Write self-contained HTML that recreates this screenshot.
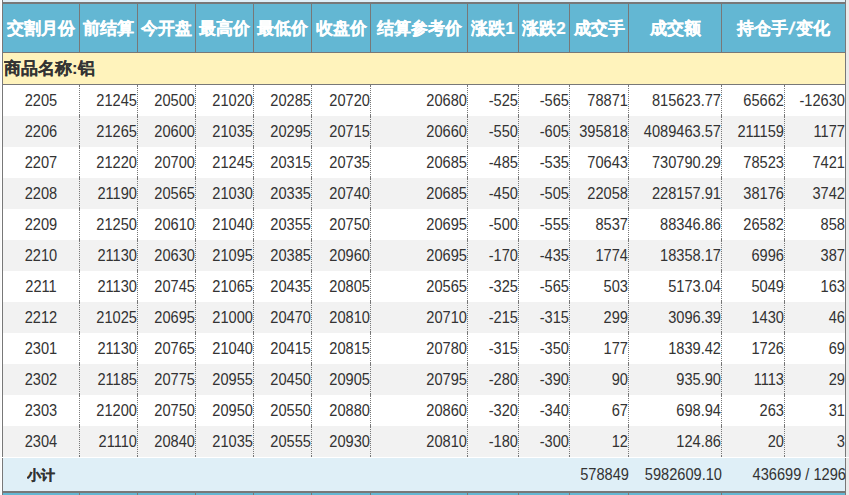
<!DOCTYPE html>
<html><head><meta charset="utf-8"><style>
html,body{margin:0;padding:0;width:849px;height:495px;overflow:hidden;background:#fff;position:relative}
body div{position:absolute;box-sizing:border-box;white-space:nowrap;overflow:hidden}
.hd{font-family:"Liberation Sans",sans-serif;font-weight:bold;font-size:17px;color:#fff;-webkit-text-stroke:0.2px #fff}
.cm{font-family:"Liberation Sans",sans-serif;font-weight:bold;font-size:16.6px;color:#333;-webkit-text-stroke:0.1px #333}
.dt{font-family:"Liberation Sans",sans-serif;font-size:15.8px;transform:scaleX(0.925);color:#333}
.sb{font-family:"Liberation Sans",sans-serif;font-size:15.8px;transform:scaleX(0.925);color:#333}
.b{font-weight:bold;letter-spacing:0;transform:none;font-size:13.6px;-webkit-text-stroke:0.3px #333}
</style></head><body>
<div style="left:0px;top:0px;width:1px;height:495px;background:#fafafa;"></div>
<div style="left:1px;top:0px;width:1px;height:495px;background:#ffffff;"></div>
<div style="left:846px;top:0px;width:3px;height:495px;background:#ebebeb;"></div>
<div style="left:3px;top:0px;width:842px;height:2px;background:#dfeff7;"></div>
<div style="left:2px;top:0px;width:1px;height:2px;background:#787878;"></div>
<div style="left:845px;top:0px;width:1px;height:2px;background:#787878;"></div>
<div style="left:2px;top:2px;width:844px;height:2px;background:#787878;"></div>
<div style="left:3px;top:4px;width:842px;height:48px;background:#63b7d3;"></div>
<div style="left:79px;top:4px;width:1px;height:48px;background:#787878;"></div>
<div style="left:137px;top:4px;width:1px;height:48px;background:#787878;"></div>
<div style="left:195px;top:4px;width:1px;height:48px;background:#787878;"></div>
<div style="left:253px;top:4px;width:1px;height:48px;background:#787878;"></div>
<div style="left:311px;top:4px;width:1px;height:48px;background:#787878;"></div>
<div style="left:370px;top:4px;width:1px;height:48px;background:#787878;"></div>
<div style="left:467px;top:4px;width:1px;height:48px;background:#787878;"></div>
<div style="left:518px;top:4px;width:1px;height:48px;background:#787878;"></div>
<div style="left:569px;top:4px;width:1px;height:48px;background:#787878;"></div>
<div style="left:628px;top:4px;width:1px;height:48px;background:#787878;"></div>
<div style="left:721px;top:4px;width:1px;height:48px;background:#787878;"></div>
<div class="hd" style="left:3px;top:5px;width:76px;height:47px;line-height:47px;text-align:center;transform-origin:center center">交割月份</div>
<div class="hd" style="left:80px;top:5px;width:57px;height:47px;line-height:47px;text-align:center;transform-origin:center center">前结算</div>
<div class="hd" style="left:138px;top:5px;width:57px;height:47px;line-height:47px;text-align:center;transform-origin:center center">今开盘</div>
<div class="hd" style="left:196px;top:5px;width:57px;height:47px;line-height:47px;text-align:center;transform-origin:center center">最高价</div>
<div class="hd" style="left:254px;top:5px;width:57px;height:47px;line-height:47px;text-align:center;transform-origin:center center">最低价</div>
<div class="hd" style="left:312px;top:5px;width:58px;height:47px;line-height:47px;text-align:center;transform-origin:center center">收盘价</div>
<div class="hd" style="left:371px;top:5px;width:96px;height:47px;line-height:47px;text-align:center;transform-origin:center center">结算参考价</div>
<div class="hd" style="left:468px;top:5px;width:50px;height:47px;line-height:47px;text-align:center;transform-origin:center center">涨跌1</div>
<div class="hd" style="left:519px;top:5px;width:50px;height:47px;line-height:47px;text-align:center;transform-origin:center center">涨跌2</div>
<div class="hd" style="left:570px;top:5px;width:58px;height:47px;line-height:47px;text-align:center;transform-origin:center center">成交手</div>
<div class="hd" style="left:629px;top:5px;width:92px;height:47px;line-height:47px;text-align:center;transform-origin:center center">成交额</div>
<div class="hd" style="left:722px;top:5px;width:123px;height:47px;line-height:47px;text-align:center;transform-origin:center center">持仓手<span style="display:inline-block;padding:0 1.5px;transform:skewX(-12deg)">/</span>变化</div>
<div style="left:2px;top:4px;width:1px;height:48px;background:#787878;"></div>
<div style="left:845px;top:4px;width:1px;height:48px;background:#787878;"></div>
<div style="left:2px;top:52px;width:844px;height:1px;background:#787878;"></div>
<div style="left:3px;top:53px;width:842px;height:31px;background:#fff3bc;"></div>
<div style="left:2px;top:53px;width:1px;height:31px;background:#787878;"></div>
<div style="left:845px;top:53px;width:1px;height:31px;background:#787878;"></div>
<div class="cm" style="left:4px;top:53px;width:400px;height:31px;line-height:31px;text-align:left;transform-origin:left center">商品名称:铝</div>
<div style="left:2px;top:84px;width:844px;height:1px;background:#787878;"></div>
<div style="left:3px;top:85px;width:842px;height:31px;background:#ffffff;"></div>
<div style="left:2px;top:85px;width:1px;height:31px;background:#787878;"></div>
<div style="left:845px;top:85px;width:1px;height:31px;background:#787878;"></div>
<div class="dt" style="left:3px;top:85px;width:76px;height:31px;line-height:31px;text-align:center;transform-origin:center center">2205</div>
<div class="dt" style="left:80px;top:85px;width:57px;height:31px;line-height:31px;text-align:right;transform-origin:right center">21245</div>
<div class="dt" style="left:138px;top:85px;width:57px;height:31px;line-height:31px;text-align:right;transform-origin:right center">20500</div>
<div class="dt" style="left:196px;top:85px;width:57px;height:31px;line-height:31px;text-align:right;transform-origin:right center">21020</div>
<div class="dt" style="left:254px;top:85px;width:57px;height:31px;line-height:31px;text-align:right;transform-origin:right center">20285</div>
<div class="dt" style="left:312px;top:85px;width:58px;height:31px;line-height:31px;text-align:right;transform-origin:right center">20720</div>
<div class="dt" style="left:371px;top:85px;width:96px;height:31px;line-height:31px;text-align:right;transform-origin:right center">20680</div>
<div class="dt" style="left:468px;top:85px;width:50px;height:31px;line-height:31px;text-align:right;transform-origin:right center">-525</div>
<div class="dt" style="left:519px;top:85px;width:50px;height:31px;line-height:31px;text-align:right;transform-origin:right center">-565</div>
<div class="dt" style="left:570px;top:85px;width:58px;height:31px;line-height:31px;text-align:right;transform-origin:right center">78871</div>
<div class="dt" style="left:629px;top:85px;width:92px;height:31px;line-height:31px;text-align:right;transform-origin:right center">815623.77</div>
<div class="dt" style="left:722px;top:85px;width:62px;height:31px;line-height:31px;text-align:right;transform-origin:right center">65662</div>
<div class="dt" style="left:785px;top:85px;width:60px;height:31px;line-height:31px;text-align:right;transform-origin:right center">-12630</div>
<div style="left:3px;top:116px;width:842px;height:31px;background:#f2f2f2;"></div>
<div style="left:2px;top:116px;width:1px;height:31px;background:#787878;"></div>
<div style="left:845px;top:116px;width:1px;height:31px;background:#787878;"></div>
<div class="dt" style="left:3px;top:116px;width:76px;height:31px;line-height:31px;text-align:center;transform-origin:center center">2206</div>
<div class="dt" style="left:80px;top:116px;width:57px;height:31px;line-height:31px;text-align:right;transform-origin:right center">21265</div>
<div class="dt" style="left:138px;top:116px;width:57px;height:31px;line-height:31px;text-align:right;transform-origin:right center">20600</div>
<div class="dt" style="left:196px;top:116px;width:57px;height:31px;line-height:31px;text-align:right;transform-origin:right center">21035</div>
<div class="dt" style="left:254px;top:116px;width:57px;height:31px;line-height:31px;text-align:right;transform-origin:right center">20295</div>
<div class="dt" style="left:312px;top:116px;width:58px;height:31px;line-height:31px;text-align:right;transform-origin:right center">20715</div>
<div class="dt" style="left:371px;top:116px;width:96px;height:31px;line-height:31px;text-align:right;transform-origin:right center">20660</div>
<div class="dt" style="left:468px;top:116px;width:50px;height:31px;line-height:31px;text-align:right;transform-origin:right center">-550</div>
<div class="dt" style="left:519px;top:116px;width:50px;height:31px;line-height:31px;text-align:right;transform-origin:right center">-605</div>
<div class="dt" style="left:570px;top:116px;width:58px;height:31px;line-height:31px;text-align:right;transform-origin:right center">395818</div>
<div class="dt" style="left:629px;top:116px;width:92px;height:31px;line-height:31px;text-align:right;transform-origin:right center">4089463.57</div>
<div class="dt" style="left:722px;top:116px;width:62px;height:31px;line-height:31px;text-align:right;transform-origin:right center">211159</div>
<div class="dt" style="left:785px;top:116px;width:60px;height:31px;line-height:31px;text-align:right;transform-origin:right center">1177</div>
<div style="left:3px;top:147px;width:842px;height:31px;background:#ffffff;"></div>
<div style="left:2px;top:147px;width:1px;height:31px;background:#787878;"></div>
<div style="left:845px;top:147px;width:1px;height:31px;background:#787878;"></div>
<div class="dt" style="left:3px;top:147px;width:76px;height:31px;line-height:31px;text-align:center;transform-origin:center center">2207</div>
<div class="dt" style="left:80px;top:147px;width:57px;height:31px;line-height:31px;text-align:right;transform-origin:right center">21220</div>
<div class="dt" style="left:138px;top:147px;width:57px;height:31px;line-height:31px;text-align:right;transform-origin:right center">20700</div>
<div class="dt" style="left:196px;top:147px;width:57px;height:31px;line-height:31px;text-align:right;transform-origin:right center">21245</div>
<div class="dt" style="left:254px;top:147px;width:57px;height:31px;line-height:31px;text-align:right;transform-origin:right center">20315</div>
<div class="dt" style="left:312px;top:147px;width:58px;height:31px;line-height:31px;text-align:right;transform-origin:right center">20735</div>
<div class="dt" style="left:371px;top:147px;width:96px;height:31px;line-height:31px;text-align:right;transform-origin:right center">20685</div>
<div class="dt" style="left:468px;top:147px;width:50px;height:31px;line-height:31px;text-align:right;transform-origin:right center">-485</div>
<div class="dt" style="left:519px;top:147px;width:50px;height:31px;line-height:31px;text-align:right;transform-origin:right center">-535</div>
<div class="dt" style="left:570px;top:147px;width:58px;height:31px;line-height:31px;text-align:right;transform-origin:right center">70643</div>
<div class="dt" style="left:629px;top:147px;width:92px;height:31px;line-height:31px;text-align:right;transform-origin:right center">730790.29</div>
<div class="dt" style="left:722px;top:147px;width:62px;height:31px;line-height:31px;text-align:right;transform-origin:right center">78523</div>
<div class="dt" style="left:785px;top:147px;width:60px;height:31px;line-height:31px;text-align:right;transform-origin:right center">7421</div>
<div style="left:3px;top:178px;width:842px;height:31px;background:#f2f2f2;"></div>
<div style="left:2px;top:178px;width:1px;height:31px;background:#787878;"></div>
<div style="left:845px;top:178px;width:1px;height:31px;background:#787878;"></div>
<div class="dt" style="left:3px;top:178px;width:76px;height:31px;line-height:31px;text-align:center;transform-origin:center center">2208</div>
<div class="dt" style="left:80px;top:178px;width:57px;height:31px;line-height:31px;text-align:right;transform-origin:right center">21190</div>
<div class="dt" style="left:138px;top:178px;width:57px;height:31px;line-height:31px;text-align:right;transform-origin:right center">20565</div>
<div class="dt" style="left:196px;top:178px;width:57px;height:31px;line-height:31px;text-align:right;transform-origin:right center">21030</div>
<div class="dt" style="left:254px;top:178px;width:57px;height:31px;line-height:31px;text-align:right;transform-origin:right center">20335</div>
<div class="dt" style="left:312px;top:178px;width:58px;height:31px;line-height:31px;text-align:right;transform-origin:right center">20740</div>
<div class="dt" style="left:371px;top:178px;width:96px;height:31px;line-height:31px;text-align:right;transform-origin:right center">20685</div>
<div class="dt" style="left:468px;top:178px;width:50px;height:31px;line-height:31px;text-align:right;transform-origin:right center">-450</div>
<div class="dt" style="left:519px;top:178px;width:50px;height:31px;line-height:31px;text-align:right;transform-origin:right center">-505</div>
<div class="dt" style="left:570px;top:178px;width:58px;height:31px;line-height:31px;text-align:right;transform-origin:right center">22058</div>
<div class="dt" style="left:629px;top:178px;width:92px;height:31px;line-height:31px;text-align:right;transform-origin:right center">228157.91</div>
<div class="dt" style="left:722px;top:178px;width:62px;height:31px;line-height:31px;text-align:right;transform-origin:right center">38176</div>
<div class="dt" style="left:785px;top:178px;width:60px;height:31px;line-height:31px;text-align:right;transform-origin:right center">3742</div>
<div style="left:3px;top:209px;width:842px;height:31px;background:#ffffff;"></div>
<div style="left:2px;top:209px;width:1px;height:31px;background:#787878;"></div>
<div style="left:845px;top:209px;width:1px;height:31px;background:#787878;"></div>
<div class="dt" style="left:3px;top:209px;width:76px;height:31px;line-height:31px;text-align:center;transform-origin:center center">2209</div>
<div class="dt" style="left:80px;top:209px;width:57px;height:31px;line-height:31px;text-align:right;transform-origin:right center">21250</div>
<div class="dt" style="left:138px;top:209px;width:57px;height:31px;line-height:31px;text-align:right;transform-origin:right center">20610</div>
<div class="dt" style="left:196px;top:209px;width:57px;height:31px;line-height:31px;text-align:right;transform-origin:right center">21040</div>
<div class="dt" style="left:254px;top:209px;width:57px;height:31px;line-height:31px;text-align:right;transform-origin:right center">20355</div>
<div class="dt" style="left:312px;top:209px;width:58px;height:31px;line-height:31px;text-align:right;transform-origin:right center">20750</div>
<div class="dt" style="left:371px;top:209px;width:96px;height:31px;line-height:31px;text-align:right;transform-origin:right center">20695</div>
<div class="dt" style="left:468px;top:209px;width:50px;height:31px;line-height:31px;text-align:right;transform-origin:right center">-500</div>
<div class="dt" style="left:519px;top:209px;width:50px;height:31px;line-height:31px;text-align:right;transform-origin:right center">-555</div>
<div class="dt" style="left:570px;top:209px;width:58px;height:31px;line-height:31px;text-align:right;transform-origin:right center">8537</div>
<div class="dt" style="left:629px;top:209px;width:92px;height:31px;line-height:31px;text-align:right;transform-origin:right center">88346.86</div>
<div class="dt" style="left:722px;top:209px;width:62px;height:31px;line-height:31px;text-align:right;transform-origin:right center">26582</div>
<div class="dt" style="left:785px;top:209px;width:60px;height:31px;line-height:31px;text-align:right;transform-origin:right center">858</div>
<div style="left:3px;top:240px;width:842px;height:31px;background:#f2f2f2;"></div>
<div style="left:2px;top:240px;width:1px;height:31px;background:#787878;"></div>
<div style="left:845px;top:240px;width:1px;height:31px;background:#787878;"></div>
<div class="dt" style="left:3px;top:240px;width:76px;height:31px;line-height:31px;text-align:center;transform-origin:center center">2210</div>
<div class="dt" style="left:80px;top:240px;width:57px;height:31px;line-height:31px;text-align:right;transform-origin:right center">21130</div>
<div class="dt" style="left:138px;top:240px;width:57px;height:31px;line-height:31px;text-align:right;transform-origin:right center">20630</div>
<div class="dt" style="left:196px;top:240px;width:57px;height:31px;line-height:31px;text-align:right;transform-origin:right center">21095</div>
<div class="dt" style="left:254px;top:240px;width:57px;height:31px;line-height:31px;text-align:right;transform-origin:right center">20385</div>
<div class="dt" style="left:312px;top:240px;width:58px;height:31px;line-height:31px;text-align:right;transform-origin:right center">20960</div>
<div class="dt" style="left:371px;top:240px;width:96px;height:31px;line-height:31px;text-align:right;transform-origin:right center">20695</div>
<div class="dt" style="left:468px;top:240px;width:50px;height:31px;line-height:31px;text-align:right;transform-origin:right center">-170</div>
<div class="dt" style="left:519px;top:240px;width:50px;height:31px;line-height:31px;text-align:right;transform-origin:right center">-435</div>
<div class="dt" style="left:570px;top:240px;width:58px;height:31px;line-height:31px;text-align:right;transform-origin:right center">1774</div>
<div class="dt" style="left:629px;top:240px;width:92px;height:31px;line-height:31px;text-align:right;transform-origin:right center">18358.17</div>
<div class="dt" style="left:722px;top:240px;width:62px;height:31px;line-height:31px;text-align:right;transform-origin:right center">6996</div>
<div class="dt" style="left:785px;top:240px;width:60px;height:31px;line-height:31px;text-align:right;transform-origin:right center">387</div>
<div style="left:3px;top:271px;width:842px;height:31px;background:#ffffff;"></div>
<div style="left:2px;top:271px;width:1px;height:31px;background:#787878;"></div>
<div style="left:845px;top:271px;width:1px;height:31px;background:#787878;"></div>
<div class="dt" style="left:3px;top:271px;width:76px;height:31px;line-height:31px;text-align:center;transform-origin:center center">2211</div>
<div class="dt" style="left:80px;top:271px;width:57px;height:31px;line-height:31px;text-align:right;transform-origin:right center">21130</div>
<div class="dt" style="left:138px;top:271px;width:57px;height:31px;line-height:31px;text-align:right;transform-origin:right center">20745</div>
<div class="dt" style="left:196px;top:271px;width:57px;height:31px;line-height:31px;text-align:right;transform-origin:right center">21065</div>
<div class="dt" style="left:254px;top:271px;width:57px;height:31px;line-height:31px;text-align:right;transform-origin:right center">20435</div>
<div class="dt" style="left:312px;top:271px;width:58px;height:31px;line-height:31px;text-align:right;transform-origin:right center">20805</div>
<div class="dt" style="left:371px;top:271px;width:96px;height:31px;line-height:31px;text-align:right;transform-origin:right center">20565</div>
<div class="dt" style="left:468px;top:271px;width:50px;height:31px;line-height:31px;text-align:right;transform-origin:right center">-325</div>
<div class="dt" style="left:519px;top:271px;width:50px;height:31px;line-height:31px;text-align:right;transform-origin:right center">-565</div>
<div class="dt" style="left:570px;top:271px;width:58px;height:31px;line-height:31px;text-align:right;transform-origin:right center">503</div>
<div class="dt" style="left:629px;top:271px;width:92px;height:31px;line-height:31px;text-align:right;transform-origin:right center">5173.04</div>
<div class="dt" style="left:722px;top:271px;width:62px;height:31px;line-height:31px;text-align:right;transform-origin:right center">5049</div>
<div class="dt" style="left:785px;top:271px;width:60px;height:31px;line-height:31px;text-align:right;transform-origin:right center">163</div>
<div style="left:3px;top:302px;width:842px;height:31px;background:#f2f2f2;"></div>
<div style="left:2px;top:302px;width:1px;height:31px;background:#787878;"></div>
<div style="left:845px;top:302px;width:1px;height:31px;background:#787878;"></div>
<div class="dt" style="left:3px;top:302px;width:76px;height:31px;line-height:31px;text-align:center;transform-origin:center center">2212</div>
<div class="dt" style="left:80px;top:302px;width:57px;height:31px;line-height:31px;text-align:right;transform-origin:right center">21025</div>
<div class="dt" style="left:138px;top:302px;width:57px;height:31px;line-height:31px;text-align:right;transform-origin:right center">20695</div>
<div class="dt" style="left:196px;top:302px;width:57px;height:31px;line-height:31px;text-align:right;transform-origin:right center">21000</div>
<div class="dt" style="left:254px;top:302px;width:57px;height:31px;line-height:31px;text-align:right;transform-origin:right center">20470</div>
<div class="dt" style="left:312px;top:302px;width:58px;height:31px;line-height:31px;text-align:right;transform-origin:right center">20810</div>
<div class="dt" style="left:371px;top:302px;width:96px;height:31px;line-height:31px;text-align:right;transform-origin:right center">20710</div>
<div class="dt" style="left:468px;top:302px;width:50px;height:31px;line-height:31px;text-align:right;transform-origin:right center">-215</div>
<div class="dt" style="left:519px;top:302px;width:50px;height:31px;line-height:31px;text-align:right;transform-origin:right center">-315</div>
<div class="dt" style="left:570px;top:302px;width:58px;height:31px;line-height:31px;text-align:right;transform-origin:right center">299</div>
<div class="dt" style="left:629px;top:302px;width:92px;height:31px;line-height:31px;text-align:right;transform-origin:right center">3096.39</div>
<div class="dt" style="left:722px;top:302px;width:62px;height:31px;line-height:31px;text-align:right;transform-origin:right center">1430</div>
<div class="dt" style="left:785px;top:302px;width:60px;height:31px;line-height:31px;text-align:right;transform-origin:right center">46</div>
<div style="left:3px;top:333px;width:842px;height:31px;background:#ffffff;"></div>
<div style="left:2px;top:333px;width:1px;height:31px;background:#787878;"></div>
<div style="left:845px;top:333px;width:1px;height:31px;background:#787878;"></div>
<div class="dt" style="left:3px;top:333px;width:76px;height:31px;line-height:31px;text-align:center;transform-origin:center center">2301</div>
<div class="dt" style="left:80px;top:333px;width:57px;height:31px;line-height:31px;text-align:right;transform-origin:right center">21130</div>
<div class="dt" style="left:138px;top:333px;width:57px;height:31px;line-height:31px;text-align:right;transform-origin:right center">20765</div>
<div class="dt" style="left:196px;top:333px;width:57px;height:31px;line-height:31px;text-align:right;transform-origin:right center">21040</div>
<div class="dt" style="left:254px;top:333px;width:57px;height:31px;line-height:31px;text-align:right;transform-origin:right center">20415</div>
<div class="dt" style="left:312px;top:333px;width:58px;height:31px;line-height:31px;text-align:right;transform-origin:right center">20815</div>
<div class="dt" style="left:371px;top:333px;width:96px;height:31px;line-height:31px;text-align:right;transform-origin:right center">20780</div>
<div class="dt" style="left:468px;top:333px;width:50px;height:31px;line-height:31px;text-align:right;transform-origin:right center">-315</div>
<div class="dt" style="left:519px;top:333px;width:50px;height:31px;line-height:31px;text-align:right;transform-origin:right center">-350</div>
<div class="dt" style="left:570px;top:333px;width:58px;height:31px;line-height:31px;text-align:right;transform-origin:right center">177</div>
<div class="dt" style="left:629px;top:333px;width:92px;height:31px;line-height:31px;text-align:right;transform-origin:right center">1839.42</div>
<div class="dt" style="left:722px;top:333px;width:62px;height:31px;line-height:31px;text-align:right;transform-origin:right center">1726</div>
<div class="dt" style="left:785px;top:333px;width:60px;height:31px;line-height:31px;text-align:right;transform-origin:right center">69</div>
<div style="left:3px;top:364px;width:842px;height:31px;background:#f2f2f2;"></div>
<div style="left:2px;top:364px;width:1px;height:31px;background:#787878;"></div>
<div style="left:845px;top:364px;width:1px;height:31px;background:#787878;"></div>
<div class="dt" style="left:3px;top:364px;width:76px;height:31px;line-height:31px;text-align:center;transform-origin:center center">2302</div>
<div class="dt" style="left:80px;top:364px;width:57px;height:31px;line-height:31px;text-align:right;transform-origin:right center">21185</div>
<div class="dt" style="left:138px;top:364px;width:57px;height:31px;line-height:31px;text-align:right;transform-origin:right center">20775</div>
<div class="dt" style="left:196px;top:364px;width:57px;height:31px;line-height:31px;text-align:right;transform-origin:right center">20955</div>
<div class="dt" style="left:254px;top:364px;width:57px;height:31px;line-height:31px;text-align:right;transform-origin:right center">20450</div>
<div class="dt" style="left:312px;top:364px;width:58px;height:31px;line-height:31px;text-align:right;transform-origin:right center">20905</div>
<div class="dt" style="left:371px;top:364px;width:96px;height:31px;line-height:31px;text-align:right;transform-origin:right center">20795</div>
<div class="dt" style="left:468px;top:364px;width:50px;height:31px;line-height:31px;text-align:right;transform-origin:right center">-280</div>
<div class="dt" style="left:519px;top:364px;width:50px;height:31px;line-height:31px;text-align:right;transform-origin:right center">-390</div>
<div class="dt" style="left:570px;top:364px;width:58px;height:31px;line-height:31px;text-align:right;transform-origin:right center">90</div>
<div class="dt" style="left:629px;top:364px;width:92px;height:31px;line-height:31px;text-align:right;transform-origin:right center">935.90</div>
<div class="dt" style="left:722px;top:364px;width:62px;height:31px;line-height:31px;text-align:right;transform-origin:right center">1113</div>
<div class="dt" style="left:785px;top:364px;width:60px;height:31px;line-height:31px;text-align:right;transform-origin:right center">29</div>
<div style="left:3px;top:395px;width:842px;height:31px;background:#ffffff;"></div>
<div style="left:2px;top:395px;width:1px;height:31px;background:#787878;"></div>
<div style="left:845px;top:395px;width:1px;height:31px;background:#787878;"></div>
<div class="dt" style="left:3px;top:395px;width:76px;height:31px;line-height:31px;text-align:center;transform-origin:center center">2303</div>
<div class="dt" style="left:80px;top:395px;width:57px;height:31px;line-height:31px;text-align:right;transform-origin:right center">21200</div>
<div class="dt" style="left:138px;top:395px;width:57px;height:31px;line-height:31px;text-align:right;transform-origin:right center">20750</div>
<div class="dt" style="left:196px;top:395px;width:57px;height:31px;line-height:31px;text-align:right;transform-origin:right center">20950</div>
<div class="dt" style="left:254px;top:395px;width:57px;height:31px;line-height:31px;text-align:right;transform-origin:right center">20550</div>
<div class="dt" style="left:312px;top:395px;width:58px;height:31px;line-height:31px;text-align:right;transform-origin:right center">20880</div>
<div class="dt" style="left:371px;top:395px;width:96px;height:31px;line-height:31px;text-align:right;transform-origin:right center">20860</div>
<div class="dt" style="left:468px;top:395px;width:50px;height:31px;line-height:31px;text-align:right;transform-origin:right center">-320</div>
<div class="dt" style="left:519px;top:395px;width:50px;height:31px;line-height:31px;text-align:right;transform-origin:right center">-340</div>
<div class="dt" style="left:570px;top:395px;width:58px;height:31px;line-height:31px;text-align:right;transform-origin:right center">67</div>
<div class="dt" style="left:629px;top:395px;width:92px;height:31px;line-height:31px;text-align:right;transform-origin:right center">698.94</div>
<div class="dt" style="left:722px;top:395px;width:62px;height:31px;line-height:31px;text-align:right;transform-origin:right center">263</div>
<div class="dt" style="left:785px;top:395px;width:60px;height:31px;line-height:31px;text-align:right;transform-origin:right center">31</div>
<div style="left:3px;top:426px;width:842px;height:31px;background:#f2f2f2;"></div>
<div style="left:2px;top:426px;width:1px;height:31px;background:#787878;"></div>
<div style="left:845px;top:426px;width:1px;height:31px;background:#787878;"></div>
<div class="dt" style="left:3px;top:426px;width:76px;height:31px;line-height:31px;text-align:center;transform-origin:center center">2304</div>
<div class="dt" style="left:80px;top:426px;width:57px;height:31px;line-height:31px;text-align:right;transform-origin:right center">21110</div>
<div class="dt" style="left:138px;top:426px;width:57px;height:31px;line-height:31px;text-align:right;transform-origin:right center">20840</div>
<div class="dt" style="left:196px;top:426px;width:57px;height:31px;line-height:31px;text-align:right;transform-origin:right center">21035</div>
<div class="dt" style="left:254px;top:426px;width:57px;height:31px;line-height:31px;text-align:right;transform-origin:right center">20555</div>
<div class="dt" style="left:312px;top:426px;width:58px;height:31px;line-height:31px;text-align:right;transform-origin:right center">20930</div>
<div class="dt" style="left:371px;top:426px;width:96px;height:31px;line-height:31px;text-align:right;transform-origin:right center">20810</div>
<div class="dt" style="left:468px;top:426px;width:50px;height:31px;line-height:31px;text-align:right;transform-origin:right center">-180</div>
<div class="dt" style="left:519px;top:426px;width:50px;height:31px;line-height:31px;text-align:right;transform-origin:right center">-300</div>
<div class="dt" style="left:570px;top:426px;width:58px;height:31px;line-height:31px;text-align:right;transform-origin:right center">12</div>
<div class="dt" style="left:629px;top:426px;width:92px;height:31px;line-height:31px;text-align:right;transform-origin:right center">124.86</div>
<div class="dt" style="left:722px;top:426px;width:62px;height:31px;line-height:31px;text-align:right;transform-origin:right center">20</div>
<div class="dt" style="left:785px;top:426px;width:60px;height:31px;line-height:31px;text-align:right;transform-origin:right center">3</div>
<div style="left:79px;top:85px;width:1px;height:372px;background-image:linear-gradient(to bottom,#787878 0px 1px,#787878 1px 2px,transparent 2px 3px,#787878 3px 4px,transparent 4px 5px,#787878 5px 6px,transparent 6px 7px,#787878 7px 8px,transparent 8px 9px,#787878 9px 10px,transparent 10px 11px,#787878 11px 12px,transparent 12px 13px,#787878 13px 14px,transparent 14px 15px,#787878 15px 16px,transparent 16px 17px,#787878 17px 18px,transparent 18px 19px,#787878 19px 20px,transparent 20px 21px,#787878 21px 22px,transparent 22px 23px,#787878 23px 24px,transparent 24px 25px,#787878 25px 26px,transparent 26px 27px,#787878 27px 28px,transparent 28px 29px,#787878 29px 30px,#787878 30px 31px);background-size:1px 31px;background-repeat:repeat-y"></div>
<div style="left:137px;top:85px;width:1px;height:372px;background-image:linear-gradient(to bottom,#787878 0px 1px,#787878 1px 2px,transparent 2px 3px,#787878 3px 4px,transparent 4px 5px,#787878 5px 6px,transparent 6px 7px,#787878 7px 8px,transparent 8px 9px,#787878 9px 10px,transparent 10px 11px,#787878 11px 12px,transparent 12px 13px,#787878 13px 14px,transparent 14px 15px,#787878 15px 16px,transparent 16px 17px,#787878 17px 18px,transparent 18px 19px,#787878 19px 20px,transparent 20px 21px,#787878 21px 22px,transparent 22px 23px,#787878 23px 24px,transparent 24px 25px,#787878 25px 26px,transparent 26px 27px,#787878 27px 28px,transparent 28px 29px,#787878 29px 30px,#787878 30px 31px);background-size:1px 31px;background-repeat:repeat-y"></div>
<div style="left:195px;top:85px;width:1px;height:372px;background-image:linear-gradient(to bottom,#787878 0px 1px,#787878 1px 2px,transparent 2px 3px,#787878 3px 4px,transparent 4px 5px,#787878 5px 6px,transparent 6px 7px,#787878 7px 8px,transparent 8px 9px,#787878 9px 10px,transparent 10px 11px,#787878 11px 12px,transparent 12px 13px,#787878 13px 14px,transparent 14px 15px,#787878 15px 16px,transparent 16px 17px,#787878 17px 18px,transparent 18px 19px,#787878 19px 20px,transparent 20px 21px,#787878 21px 22px,transparent 22px 23px,#787878 23px 24px,transparent 24px 25px,#787878 25px 26px,transparent 26px 27px,#787878 27px 28px,transparent 28px 29px,#787878 29px 30px,#787878 30px 31px);background-size:1px 31px;background-repeat:repeat-y"></div>
<div style="left:253px;top:85px;width:1px;height:372px;background-image:linear-gradient(to bottom,#787878 0px 1px,#787878 1px 2px,transparent 2px 3px,#787878 3px 4px,transparent 4px 5px,#787878 5px 6px,transparent 6px 7px,#787878 7px 8px,transparent 8px 9px,#787878 9px 10px,transparent 10px 11px,#787878 11px 12px,transparent 12px 13px,#787878 13px 14px,transparent 14px 15px,#787878 15px 16px,transparent 16px 17px,#787878 17px 18px,transparent 18px 19px,#787878 19px 20px,transparent 20px 21px,#787878 21px 22px,transparent 22px 23px,#787878 23px 24px,transparent 24px 25px,#787878 25px 26px,transparent 26px 27px,#787878 27px 28px,transparent 28px 29px,#787878 29px 30px,#787878 30px 31px);background-size:1px 31px;background-repeat:repeat-y"></div>
<div style="left:311px;top:85px;width:1px;height:372px;background-image:linear-gradient(to bottom,#787878 0px 1px,#787878 1px 2px,transparent 2px 3px,#787878 3px 4px,transparent 4px 5px,#787878 5px 6px,transparent 6px 7px,#787878 7px 8px,transparent 8px 9px,#787878 9px 10px,transparent 10px 11px,#787878 11px 12px,transparent 12px 13px,#787878 13px 14px,transparent 14px 15px,#787878 15px 16px,transparent 16px 17px,#787878 17px 18px,transparent 18px 19px,#787878 19px 20px,transparent 20px 21px,#787878 21px 22px,transparent 22px 23px,#787878 23px 24px,transparent 24px 25px,#787878 25px 26px,transparent 26px 27px,#787878 27px 28px,transparent 28px 29px,#787878 29px 30px,#787878 30px 31px);background-size:1px 31px;background-repeat:repeat-y"></div>
<div style="left:370px;top:85px;width:1px;height:372px;background-image:linear-gradient(to bottom,#787878 0px 1px,#787878 1px 2px,transparent 2px 3px,#787878 3px 4px,transparent 4px 5px,#787878 5px 6px,transparent 6px 7px,#787878 7px 8px,transparent 8px 9px,#787878 9px 10px,transparent 10px 11px,#787878 11px 12px,transparent 12px 13px,#787878 13px 14px,transparent 14px 15px,#787878 15px 16px,transparent 16px 17px,#787878 17px 18px,transparent 18px 19px,#787878 19px 20px,transparent 20px 21px,#787878 21px 22px,transparent 22px 23px,#787878 23px 24px,transparent 24px 25px,#787878 25px 26px,transparent 26px 27px,#787878 27px 28px,transparent 28px 29px,#787878 29px 30px,#787878 30px 31px);background-size:1px 31px;background-repeat:repeat-y"></div>
<div style="left:467px;top:85px;width:1px;height:372px;background-image:linear-gradient(to bottom,#787878 0px 1px,#787878 1px 2px,transparent 2px 3px,#787878 3px 4px,transparent 4px 5px,#787878 5px 6px,transparent 6px 7px,#787878 7px 8px,transparent 8px 9px,#787878 9px 10px,transparent 10px 11px,#787878 11px 12px,transparent 12px 13px,#787878 13px 14px,transparent 14px 15px,#787878 15px 16px,transparent 16px 17px,#787878 17px 18px,transparent 18px 19px,#787878 19px 20px,transparent 20px 21px,#787878 21px 22px,transparent 22px 23px,#787878 23px 24px,transparent 24px 25px,#787878 25px 26px,transparent 26px 27px,#787878 27px 28px,transparent 28px 29px,#787878 29px 30px,#787878 30px 31px);background-size:1px 31px;background-repeat:repeat-y"></div>
<div style="left:518px;top:85px;width:1px;height:372px;background-image:linear-gradient(to bottom,#787878 0px 1px,#787878 1px 2px,transparent 2px 3px,#787878 3px 4px,transparent 4px 5px,#787878 5px 6px,transparent 6px 7px,#787878 7px 8px,transparent 8px 9px,#787878 9px 10px,transparent 10px 11px,#787878 11px 12px,transparent 12px 13px,#787878 13px 14px,transparent 14px 15px,#787878 15px 16px,transparent 16px 17px,#787878 17px 18px,transparent 18px 19px,#787878 19px 20px,transparent 20px 21px,#787878 21px 22px,transparent 22px 23px,#787878 23px 24px,transparent 24px 25px,#787878 25px 26px,transparent 26px 27px,#787878 27px 28px,transparent 28px 29px,#787878 29px 30px,#787878 30px 31px);background-size:1px 31px;background-repeat:repeat-y"></div>
<div style="left:569px;top:85px;width:1px;height:372px;background-image:linear-gradient(to bottom,#787878 0px 1px,#787878 1px 2px,transparent 2px 3px,#787878 3px 4px,transparent 4px 5px,#787878 5px 6px,transparent 6px 7px,#787878 7px 8px,transparent 8px 9px,#787878 9px 10px,transparent 10px 11px,#787878 11px 12px,transparent 12px 13px,#787878 13px 14px,transparent 14px 15px,#787878 15px 16px,transparent 16px 17px,#787878 17px 18px,transparent 18px 19px,#787878 19px 20px,transparent 20px 21px,#787878 21px 22px,transparent 22px 23px,#787878 23px 24px,transparent 24px 25px,#787878 25px 26px,transparent 26px 27px,#787878 27px 28px,transparent 28px 29px,#787878 29px 30px,#787878 30px 31px);background-size:1px 31px;background-repeat:repeat-y"></div>
<div style="left:628px;top:85px;width:1px;height:372px;background-image:linear-gradient(to bottom,#787878 0px 1px,#787878 1px 2px,transparent 2px 3px,#787878 3px 4px,transparent 4px 5px,#787878 5px 6px,transparent 6px 7px,#787878 7px 8px,transparent 8px 9px,#787878 9px 10px,transparent 10px 11px,#787878 11px 12px,transparent 12px 13px,#787878 13px 14px,transparent 14px 15px,#787878 15px 16px,transparent 16px 17px,#787878 17px 18px,transparent 18px 19px,#787878 19px 20px,transparent 20px 21px,#787878 21px 22px,transparent 22px 23px,#787878 23px 24px,transparent 24px 25px,#787878 25px 26px,transparent 26px 27px,#787878 27px 28px,transparent 28px 29px,#787878 29px 30px,#787878 30px 31px);background-size:1px 31px;background-repeat:repeat-y"></div>
<div style="left:721px;top:85px;width:1px;height:372px;background-image:linear-gradient(to bottom,#787878 0px 1px,#787878 1px 2px,transparent 2px 3px,#787878 3px 4px,transparent 4px 5px,#787878 5px 6px,transparent 6px 7px,#787878 7px 8px,transparent 8px 9px,#787878 9px 10px,transparent 10px 11px,#787878 11px 12px,transparent 12px 13px,#787878 13px 14px,transparent 14px 15px,#787878 15px 16px,transparent 16px 17px,#787878 17px 18px,transparent 18px 19px,#787878 19px 20px,transparent 20px 21px,#787878 21px 22px,transparent 22px 23px,#787878 23px 24px,transparent 24px 25px,#787878 25px 26px,transparent 26px 27px,#787878 27px 28px,transparent 28px 29px,#787878 29px 30px,#787878 30px 31px);background-size:1px 31px;background-repeat:repeat-y"></div>
<div style="left:784px;top:85px;width:1px;height:372px;background-image:linear-gradient(to bottom,#787878 0px 1px,#787878 1px 2px,transparent 2px 3px,#787878 3px 4px,transparent 4px 5px,#787878 5px 6px,transparent 6px 7px,#787878 7px 8px,transparent 8px 9px,#787878 9px 10px,transparent 10px 11px,#787878 11px 12px,transparent 12px 13px,#787878 13px 14px,transparent 14px 15px,#787878 15px 16px,transparent 16px 17px,#787878 17px 18px,transparent 18px 19px,#787878 19px 20px,transparent 20px 21px,#787878 21px 22px,transparent 22px 23px,#787878 23px 24px,transparent 24px 25px,#787878 25px 26px,transparent 26px 27px,#787878 27px 28px,transparent 28px 29px,#787878 29px 30px,#787878 30px 31px);background-size:1px 31px;background-repeat:repeat-y"></div>
<div style="left:0px;top:457px;width:849px;height:1px;background:#ffffff;"></div>
<div style="left:846px;top:457px;width:3px;height:1px;background:#ffffff;"></div>
<div style="left:3px;top:458px;width:842px;height:33px;background:#dfeff7;"></div>
<div style="left:2px;top:458px;width:1px;height:33px;background:#787878;"></div>
<div style="left:845px;top:458px;width:1px;height:33px;background:#787878;"></div>
<div class="sb b" style="left:27px;top:459px;width:60px;height:33px;line-height:33px">小计</div>
<div class="sb" style="left:572px;top:458px;width:57px;height:33px;line-height:33px;text-align:right;transform-origin:right center">578849</div>
<div class="sb" style="left:631px;top:458px;width:91px;height:33px;line-height:33px;text-align:right;transform-origin:right center">5982609.10</div>
<div class="sb" style="left:724px;top:458px;width:122px;height:33px;line-height:33px;text-align:right;transform-origin:right center">436699 / 1296</div>
<div style="left:2px;top:491px;width:844px;height:2px;background:#787878;"></div>
<div style="left:3px;top:493px;width:842px;height:48px;background:#63b7d3;"></div>
<div style="left:79px;top:493px;width:1px;height:48px;background:#787878;"></div>
<div style="left:137px;top:493px;width:1px;height:48px;background:#787878;"></div>
<div style="left:195px;top:493px;width:1px;height:48px;background:#787878;"></div>
<div style="left:253px;top:493px;width:1px;height:48px;background:#787878;"></div>
<div style="left:311px;top:493px;width:1px;height:48px;background:#787878;"></div>
<div style="left:370px;top:493px;width:1px;height:48px;background:#787878;"></div>
<div style="left:467px;top:493px;width:1px;height:48px;background:#787878;"></div>
<div style="left:518px;top:493px;width:1px;height:48px;background:#787878;"></div>
<div style="left:569px;top:493px;width:1px;height:48px;background:#787878;"></div>
<div style="left:628px;top:493px;width:1px;height:48px;background:#787878;"></div>
<div style="left:721px;top:493px;width:1px;height:48px;background:#787878;"></div>
<div class="hd" style="left:3px;top:494px;width:76px;height:47px;line-height:47px;text-align:center;transform-origin:center center">交割月份</div>
<div class="hd" style="left:80px;top:494px;width:57px;height:47px;line-height:47px;text-align:center;transform-origin:center center">前结算</div>
<div class="hd" style="left:138px;top:494px;width:57px;height:47px;line-height:47px;text-align:center;transform-origin:center center">今开盘</div>
<div class="hd" style="left:196px;top:494px;width:57px;height:47px;line-height:47px;text-align:center;transform-origin:center center">最高价</div>
<div class="hd" style="left:254px;top:494px;width:57px;height:47px;line-height:47px;text-align:center;transform-origin:center center">最低价</div>
<div class="hd" style="left:312px;top:494px;width:58px;height:47px;line-height:47px;text-align:center;transform-origin:center center">收盘价</div>
<div class="hd" style="left:371px;top:494px;width:96px;height:47px;line-height:47px;text-align:center;transform-origin:center center">结算参考价</div>
<div class="hd" style="left:468px;top:494px;width:50px;height:47px;line-height:47px;text-align:center;transform-origin:center center">涨跌1</div>
<div class="hd" style="left:519px;top:494px;width:50px;height:47px;line-height:47px;text-align:center;transform-origin:center center">涨跌2</div>
<div class="hd" style="left:570px;top:494px;width:58px;height:47px;line-height:47px;text-align:center;transform-origin:center center">成交手</div>
<div class="hd" style="left:629px;top:494px;width:92px;height:47px;line-height:47px;text-align:center;transform-origin:center center">成交额</div>
<div class="hd" style="left:722px;top:494px;width:123px;height:47px;line-height:47px;text-align:center;transform-origin:center center">持仓手<span style="display:inline-block;padding:0 1.5px;transform:skewX(-12deg)">/</span>变化</div>
<div style="left:2px;top:493px;width:1px;height:2px;background:#787878;"></div>
<div style="left:845px;top:493px;width:1px;height:2px;background:#787878;"></div>
</body></html>
